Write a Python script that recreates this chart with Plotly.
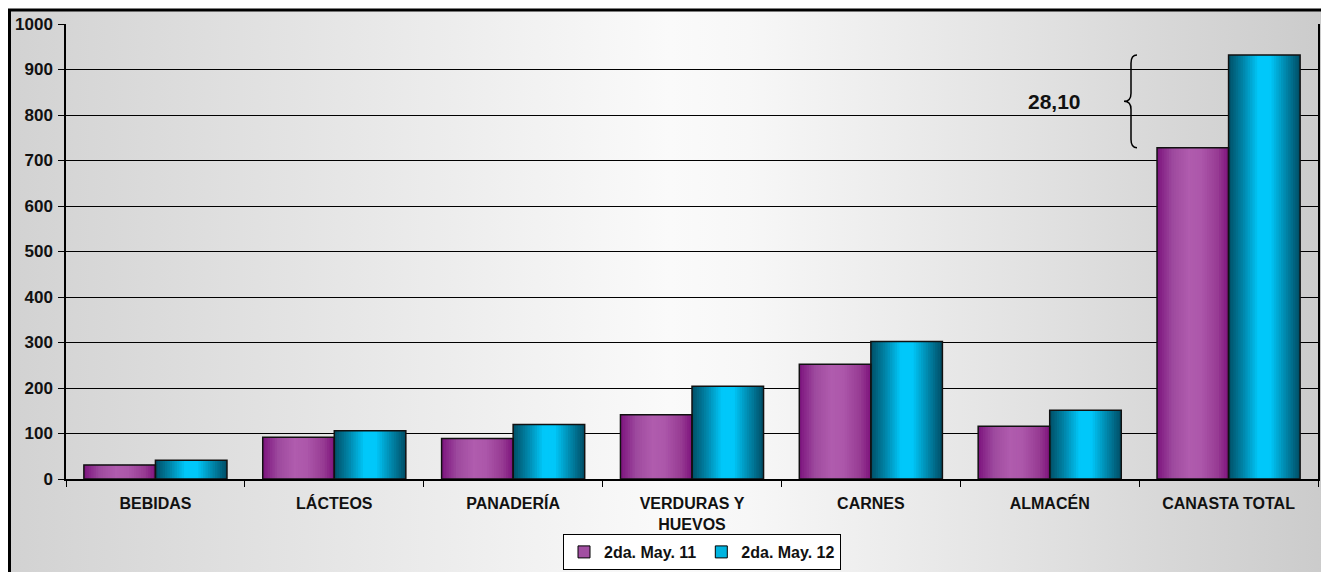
import base64
import plotly.graph_objects as go

# ---------------- data ----------------
categories = ["BEBIDAS", "LÁCTEOS", "PANADERÍA", "VERDURAS Y<br>HUEVOS", "CARNES", "ALMACÉN", "CANASTA TOTAL"]
may11 = [31, 92, 89, 141, 252, 116, 728]
may12 = [41, 106, 120, 204, 302, 151, 932]
series_names = ["2da. May. 11", "2da. May. 12"]
y_ticks = [0, 100, 200, 300, 400, 500, 600, 700, 800, 900, 1000]
delta_label = "28,10"

# ---------------- styling helpers ----------------
PURPLE_STOPS = [(0.0, "#7C137E"), (0.22, "#9E4A9E"), (0.45, "#B05CAE"), (0.62, "#AC57AA"),
                (0.85, "#973B93"), (1.0, "#7E137C")]
CYAN_STOPS = [(0.0, "#004F66"), (0.2, "#0084A8"), (0.42, "#00C8FA"), (0.58, "#00C8FA"),
              (0.8, "#0086AA"), (1.0, "#004C64")]


def hex2rgb(h):
    h = h.lstrip("#")
    return tuple(int(h[i:i + 2], 16) for i in (0, 2, 4))


def interp(stops, t):
    for (t0, c0), (t1, c1) in zip(stops[:-1], stops[1:]):
        if t0 <= t <= t1:
            f = 0 if t1 == t0 else (t - t0) / (t1 - t0)
            a, b = hex2rgb(c0), hex2rgb(c1)
            return "rgb(%d,%d,%d)" % tuple(round(a[i] + (b[i] - a[i]) * f) for i in range(3))
    return stops[-1][1]


fig = go.Figure()

BAR_W = 0.4
N = 30
for vals, off0, stops in [(may11, -BAR_W, PURPLE_STOPS), (may12, 0.0, CYAN_STOPS)]:
    step = BAR_W / N
    for k in range(N):
        w = step * 1.6 if k < N - 1 else step
        fig.add_trace(go.Bar(
            x=categories, y=vals,
            width=[w] * len(categories), offset=[off0 + k * step] * len(categories),
            marker=dict(color=interp(stops, (k + 0.5) / N), line=dict(width=0)),
            showlegend=False, hoverinfo="skip"))

# outlines
for vals, off0 in [(may11, -BAR_W), (may12, 0.0)]:
    fig.add_trace(go.Bar(
        x=categories, y=vals,
        width=[BAR_W] * len(categories), offset=[off0] * len(categories),
        marker=dict(color="rgba(0,0,0,0)", line=dict(color="#111111", width=1.5)),
        showlegend=False, hoverinfo="skip"))

# legend entries
for name, col in zip(series_names, ["#A24FA2", "#00B4E0"]):
    fig.add_trace(go.Bar(x=[categories[0]], y=[None], name=name,
                         marker=dict(color=col, line=dict(color="black", width=1))))

# ---------------- background gradient image ----------------
svg = ("<svg xmlns='http://www.w3.org/2000/svg' viewBox='0 0 100 100' width='100' height='100' "
       "preserveAspectRatio='none'><defs><linearGradient id='g' x1='0' x2='1' y1='0' y2='0'>"
       "<stop offset='0' stop-color='#D2D2D2'/><stop offset='0.5' stop-color='#FAFAFA'/>"
       "<stop offset='0.56' stop-color='#F7F7F7'/><stop offset='1' stop-color='#CBCBCB'/>"
       "</linearGradient></defs><rect width='100' height='100' fill='url(#g)'/></svg>")
src = "data:image/svg+xml;base64," + base64.b64encode(svg.encode()).decode()

PW, PH = 1252.0, 455.0  # plot area in px
L, T = 66, 24
FIG_W, FIG_H = 1321, 572


def fx(px):  # page px -> paper x
    return (px - L) / PW


def fy(py):  # page px -> paper y
    return (T + PH - py) / PH


fig.add_layout_image(dict(source=src, xref="paper", yref="paper",
                          x=fx(9), y=fy(9), sizex=(1330 - 9) / PW, sizey=(600 - 9) / PH,
                          xanchor="left", yanchor="top", sizing="stretch", layer="below"))

# outer frame
fig.add_shape(type="rect", xref="paper", yref="paper",
              x0=fx(9.5), y0=fy(620), x1=fx(1350), y1=fy(10),
              line=dict(color="black", width=3), fillcolor="rgba(0,0,0,0)", layer="above")

# brace on total
top, bot = may12[-1], may11[-1]
mid = (top + bot) / 2
xe, xv, xt = fx(1137), fx(1131), fx(1124)
r = 18
path = (f"M {xe},{top} Q {xv},{top} {xv},{top - r} L {xv},{mid + r} "
        f"Q {xv},{mid} {xt},{mid} Q {xv},{mid} {xv},{mid - r} "
        f"L {xv},{bot + r} Q {xv},{bot} {xe},{bot}")
fig.add_shape(type="path", xref="paper", yref="y", path=path,
              line=dict(color="black", width=1.5))

FONT = "Liberation Sans, Arial, sans-serif"
fig.add_annotation(xref="paper", yref="y", x=fx(1083), y=mid, text=delta_label, showarrow=False,
                   font=dict(family=FONT, size=21, color="#111111", weight="bold"))

fig.update_layout(
    width=FIG_W, height=FIG_H,
    margin=dict(l=L, r=FIG_W - L - int(PW), t=T, b=FIG_H - T - int(PH), autoexpand=False),
    paper_bgcolor="white", plot_bgcolor="rgba(0,0,0,0)",
    barmode="overlay",
    font=dict(family=FONT, color="#111111"),
    showlegend=True,
    legend=dict(orientation="h", x=fx(702), xanchor="center", y=fy(570), yanchor="bottom",
                bgcolor="white", bordercolor="black", borderwidth=1,
                font=dict(family=FONT, size=16, color="#111111", weight="bold"),
                itemwidth=30, traceorder="normal", tracegroupgap=0),
    xaxis=dict(type="category", categoryorder="array", categoryarray=categories,
               showline=True, linecolor="black", linewidth=1.5, automargin=False,
               ticks="outside", tickson="boundaries", ticklen=6, tickcolor="black",
               ticklabelstandoff=9, showgrid=False,
               tickfont=dict(family=FONT, size=16, color="#111111", weight="bold")),
    yaxis=dict(range=[0, 1000], tickvals=y_ticks, showline=True, mirror=True, automargin=False,
               linecolor="black", linewidth=1.5, ticks="outside", ticklen=6, tickcolor="black",
               ticklabelstandoff=2,
               showgrid=True, gridcolor="black", gridwidth=1, zeroline=False,
               tickfont=dict(family=FONT, size=17, color="#111111", weight="bold")),
)

fig.write_html("out.html", config={"displayModeBar": False},
               post_script="document.body.style.margin='0';document.body.style.overflow='hidden';")
